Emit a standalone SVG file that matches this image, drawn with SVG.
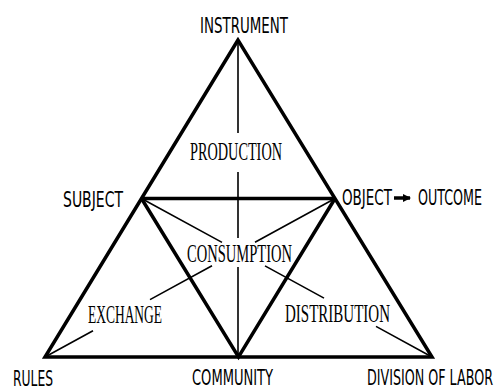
<svg xmlns="http://www.w3.org/2000/svg" width="497" height="392" viewBox="0 0 497 392">
<style>
.thick{stroke:#000;stroke-width:3.5;fill:none;stroke-linejoin:miter;stroke-linecap:butt}
.thin{stroke:#000;stroke-width:1.6;fill:none}
.v{font-family:"DejaVu Sans Condensed","DejaVu Sans","Liberation Sans",sans-serif;font-stretch:condensed;font-size:21px;fill:#000}
.i{font-family:"Liberation Serif","DejaVu Serif",serif;font-size:26px;fill:#000}
</style>
<defs>
<marker id="ah" markerWidth="8" markerHeight="8" refX="7" refY="4" orient="auto" markerUnits="userSpaceOnUse">
<path d="M0,0 L8,4 L0,8 Z" fill="#000"/>
</marker>
</defs>
<rect width="497" height="392" fill="#fff"/>
<g id="connectors">
<path class="thick" d="M238,40 L45,357 L432,357 Z"/>
<path class="thick" d="M141.5,198.5 L335,198.5"/>
<path class="thick" d="M141.5,198.5 L238.5,357 L335,198.5"/>
<path class="thin" d="M238,40 L238,133 M238,172 L238,238 M238,267 L238,357"/>
<path class="thin" d="M141.5,198.5 L222,242.4 M265,265.9 L324,298.1 M376,326.4 L432,357"/>
<path class="thin" d="M335,198.5 L255,242.2 M212,265.7 L150,299.6 M93,330.8 L45,357"/>
<path class="thick" d="M394,198 L410,198" marker-end="url(#ah)" stroke-width="3"/>
</g>
<g id="instrument" transform="translate(200,33) scale(0.7,1)"><text class="v" x="0" y="0" textLength="125.7" lengthAdjust="spacingAndGlyphs">INSTRUMENT</text></g>
<g id="subject" transform="translate(63,207) scale(0.7,1)"><text class="v" x="0" y="0" textLength="85.7" lengthAdjust="spacingAndGlyphs">SUBJECT</text></g>
<g id="object" transform="translate(342,205) scale(0.7,1)"><text class="v" x="0" y="0" textLength="71.4" lengthAdjust="spacingAndGlyphs">OBJECT</text></g>
<g id="outcome" transform="translate(418,205) scale(0.7,1)"><text class="v" x="0" y="0" textLength="91.4" lengthAdjust="spacingAndGlyphs">OUTCOME</text></g>
<g id="rules" transform="translate(13,386) scale(0.7,1)"><text class="v" x="0" y="0" textLength="57.1" lengthAdjust="spacingAndGlyphs">RULES</text></g>
<g id="community" transform="translate(192,385) scale(0.7,1)"><text class="v" x="0" y="0" textLength="115.7" lengthAdjust="spacingAndGlyphs">COMMUNITY</text></g>
<g id="division" transform="translate(367,385) scale(0.7,1)"><text class="v" x="0" y="0" textLength="180" lengthAdjust="spacingAndGlyphs">DIVISION OF LABOR</text></g>
<g id="production"><text class="i" x="190" y="160" textLength="92" lengthAdjust="spacingAndGlyphs">PRODUCTION</text></g>
<g id="consumption"><text class="i" x="187" y="262" textLength="105" lengthAdjust="spacingAndGlyphs">CONSUMPTION</text></g>
<g id="exchange"><text class="i" x="88" y="323" textLength="74" lengthAdjust="spacingAndGlyphs">EXCHANGE</text></g>
<g id="distribution"><text class="i" x="285" y="322" textLength="105" lengthAdjust="spacingAndGlyphs">DISTRIBUTION</text></g>
</svg>
